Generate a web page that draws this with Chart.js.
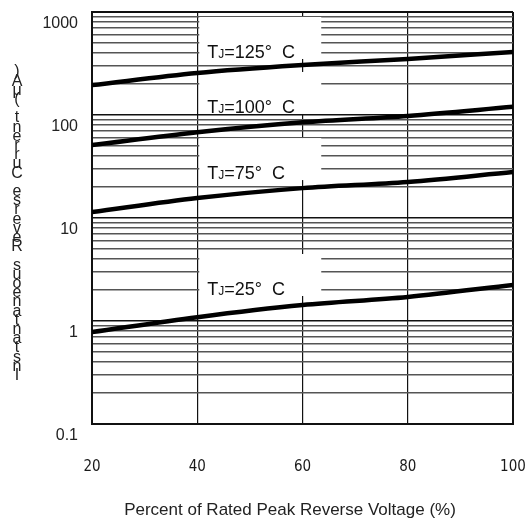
<!DOCTYPE html>
<html><head><meta charset="utf-8">
<script src="https://cdn.jsdelivr.net/npm/chart.js@4"></script>
<style>html,body{margin:0;padding:0;background:#fff}</style>
</head><body>
<canvas id="c" width="528" height="527"></canvas>
<script>
// ---- data ----
const percent = [20, 40, 60, 80, 100];
const tj125 = [195, 256, 306, 350, 409];
const tj100 = [51, 68, 85, 98, 120];
const tj75 = [11.4, 15.6, 19.5, 22.4, 28.0];
const tj25 = [0.78, 1.09, 1.43, 1.71, 2.24];
const tjNames = ['125', '100', '75', '25'];
const tjLabelAt = [400, 117, 26.7, 2.0];      // y value where each label sits
const xTicks = [20, 40, 60, 80, 100];
const yDecades = [0.1, 1, 10, 100, 1000];
const yDecadeLabels = ['0.1', '1', '10', '100', '1000'];
const yMinorTicks = [0.2,0.3,0.4,0.5,0.6,0.7,0.8,0.9,2,3,4,5,6,7,8,9,20,30,40,50,60,70,80,90,200,300,400,500,600,700,800,900];
const xTitle = 'Percent of Rated Peak Reverse Voltage (%)';
const yTitle = 'Instantaneous Reverse Current (μA)';

const series = [tj125, tj100, tj75, tj25];
const FONT = "'Liberation Sans', Arial, sans-serif";

const labelPlugin = {
  id: 'tjLabels',
  beforeDatasetsDraw(chart) {
    const {ctx, scales: {x, y}} = chart;
    ctx.save();
    tjNames.forEach((name, i) => {
      const x0 = x.getPixelForValue(40) + 2;
      const yc = y.getPixelForValue(tjLabelAt[i]);
      ctx.fillStyle = '#fff';
      ctx.fillRect(x0, yc - 36, 122, 42);
      ctx.fillStyle = '#111';
      ctx.textBaseline = 'middle';
      ctx.textAlign = 'left';
      let tx = x0 + 8;
      ctx.font = '18px ' + FONT;
      ctx.fillText('T', tx, yc);
      tx += ctx.measureText('T').width;
      ctx.font = '12px ' + FONT;
      ctx.fillText('J', tx, yc + 2);
      tx += ctx.measureText('J').width;
      ctx.font = '18px ' + FONT;
      ctx.fillText('=' + name + '°  C', tx, yc);
    });
    ctx.restore();
  },
  afterDraw(chart) {
    const {ctx} = chart;
    ctx.save();
    ctx.fillStyle = '#222';
    ctx.font = '16px ' + FONT;
    ctx.textAlign = 'center';
    ctx.textBaseline = 'middle';
    const chars = Array.from(yTitle).reverse();
    const step = 9.2;
    chars.forEach((ch, i) => ctx.fillText(ch, 17, 72 + i * step));
    // x-axis title (placed as in the reference, slightly left of centre)
    ctx.font = '17px ' + FONT;
    ctx.fillText(xTitle, 290, 510);
    ctx.restore();
  }
};

new Chart(document.getElementById('c'), {
  type: 'line',
  data: {
    datasets: series.map((s, i) => ({
      label: 'TJ=' + tjNames[i],
      data: percent.map((p, k) => ({x: p, y: s[k]})),
      borderColor: '#000',
      borderWidth: 4.5,
      pointRadius: 0,
      fill: false,
      cubicInterpolationMode: 'monotone'
    }))
  },
  options: {
    responsive: false,
    animation: false,
    devicePixelRatio: 1,
    layout: {padding: {left: 0, right: 15, top: 12, bottom: 0}},
    plugins: {legend: {display: false}, tooltip: {enabled: false}},
    scales: {
      x: {
        type: 'linear', min: 20, max: 100,
        afterBuildTicks: s => { s.ticks = xTicks.map(v => ({value: v})); },
        afterFit: s => { s.height = 103; s.paddingLeft = 0; s.paddingRight = 0; },
        ticks: {font: {family: "'Liberation Sans Narrow', 'DejaVu Sans Condensed', sans-serif", size: 15}, color: '#1a1a1a', padding: 34, maxRotation: 0, autoSkip: false},
        grid: {color: '#111', lineWidth: c => (c.index === 0 || c.index === xTicks.length - 1) ? 2 : 1.2, drawTicks: false},
        border: {display: true, width: 2, color: '#111'},
        title: {display: false}
      },
      y: {
        type: 'logarithmic', min: 0.1, max: 1000,
        afterBuildTicks: s => {
          s.ticks = yDecades.concat(yMinorTicks).sort((a, b) => a - b).map(v => ({value: v, major: yDecades.includes(v)}));
        },
        afterFit: s => { s.width = 92; s.paddingTop = 0; s.paddingBottom = 0; },
        ticks: {
          autoSkip: false, font: {family: FONT, size: 16}, color: '#222', padding: 14, labelOffset: 12,
          callback: v => { const i = yDecades.indexOf(v); return i >= 0 ? yDecadeLabels[i] : ''; }
        },
        grid: {
          drawTicks: false,
          color: c => (c.tick && yDecades.includes(c.tick.value)) ? '#111' : '#555',
          lineWidth: c => {
            if (!c.tick) return 1.3;
            if (c.tick.value === 0.1 || c.tick.value === 1000) return 2;
            return yDecades.includes(c.tick.value) ? 1.5 : 1.4;
          }
        },
        border: {display: true, width: 2, color: '#111'}
      }
    }
  },
  plugins: [labelPlugin]
});
</script>
</body></html>
